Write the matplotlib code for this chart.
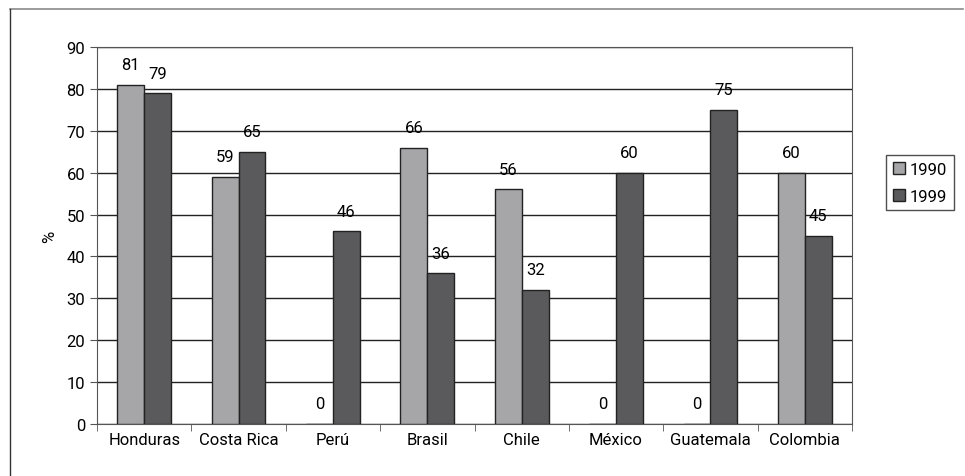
import matplotlib.pyplot as plt
import numpy as np
from matplotlib.lines import Line2D

plt.rcParams['font.family'] = ['Roboto', 'DejaVu Sans']

countries = ['Honduras', 'Costa Rica', 'Perú', 'Brasil', 'Chile', 'México', 'Guatemala', 'Colombia']
vals_1990 = [81, 59, 0, 66, 56, 0, 0, 60]
vals_1999 = [79, 65, 46, 36, 32, 60, 75, 45]

fig = plt.figure(figsize=(9.65, 4.77), dpi=100)
ax = fig.add_axes([97/965, 1-425/477, (852-97)/965, (425-48)/477])

# outer frame (top and left only)
fig.add_artist(Line2D([10/965, 963/965], [1-10/477, 1-10/477], transform=fig.transFigure,
                      color='#8a8a8a', linewidth=1.2))
fig.add_artist(Line2D([10/965, 10/965], [1-10/477, 0], transform=fig.transFigure,
                      color='#333333', linewidth=1))

x = np.arange(len(countries))
w = 0.285
b1 = ax.bar(x - w/2, vals_1990, w, color='#a6a6a9', edgecolor='#222222', linewidth=1, label='1990', zorder=3)
b2 = ax.bar(x + w/2, vals_1999, w, color='#5a5a5c', edgecolor='#222222', linewidth=1, label='1999', zorder=3)

for bars in (b1, b2):
    for r in bars:
        ax.text(r.get_x() + r.get_width()/2, r.get_height() + 3, f'{int(r.get_height())}',
                ha='center', va='bottom', fontsize=12)

ax.set_xlim(-0.5, len(countries) - 0.5)
ax.set_ylim(0, 90)
ax.set_yticks(range(0, 91, 10))
ax.yaxis.grid(True, color='#222222', linewidth=1, zorder=0)
ax.set_xticks(x)
ax.set_xticklabels(countries, fontsize=12)
ax.set_xticks(np.arange(-0.5, len(countries)), minor=True)
ax.tick_params(axis='x', which='major', length=0, pad=6)
ax.tick_params(axis='x', which='minor', length=5, color='#555555')
ax.tick_params(axis='y', length=5, labelsize=12, color='#555555')
ax.set_ylabel('%', fontsize=12, labelpad=7)
for s in ax.spines.values():
    s.set_color('#555555')

fig.legend(handles=[b1, b2], labels=['1990', '1999'], loc='upper left',
           bbox_to_anchor=(878/965, 1-148/477), fontsize=12, frameon=True, fancybox=False,
           edgecolor='#222222', handlelength=0.7, handleheight=0.7, handletextpad=0.3,
           borderpad=0.4, labelspacing=0.7)

fig.savefig('out.png', dpi=100)
